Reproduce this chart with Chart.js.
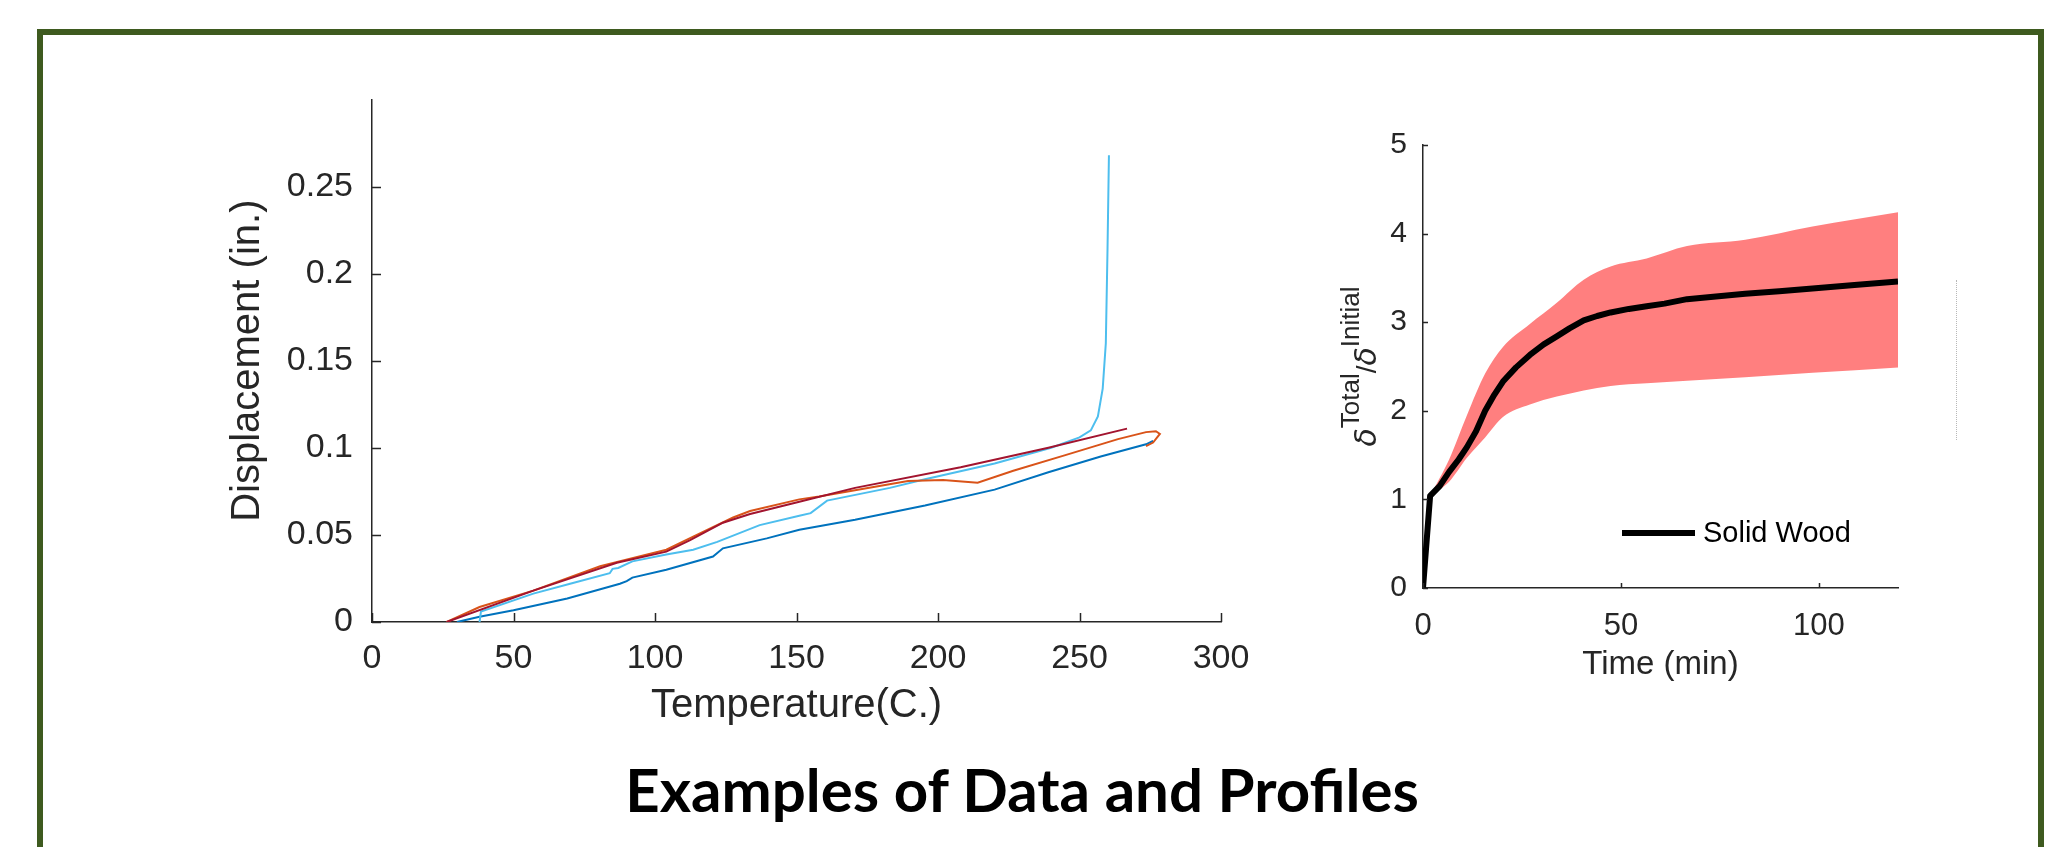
<!DOCTYPE html>
<html>
<head>
<meta charset="utf-8">
<script src="https://cdn.jsdelivr.net/npm/chart.js@4.4.0/dist/chart.umd.min.js"></script>
<style>
  html, body { margin: 0; padding: 0; background: #fff; width: 2059px; height: 847px; overflow: hidden; }
  #frame { position: absolute; left: 37px; top: 29px; width: 1995px; height: 900px; border: 6px solid #3e5a1f; }
  #tempChart { position: absolute; left: 150px; top: 60px; }
  #ratioChart { position: absolute; left: 1300px; top: 100px; }
  #title { position: absolute; left: 572px; width: 900px; top: 753px; text-align: center;
           font-family: Lato, "Open Sans", sans-serif; font-weight: 700; font-size: 60px; line-height: 72px; color: #000; }
  #stub { position: absolute; left: 1956px; top: 280px; height: 160px; border-left: 1px dotted #b8b8b8; }
</style>
</head>
<body>
<div id="frame"></div>
<canvas id="tempChart" width="1130" height="700"></canvas>
<canvas id="ratioChart" width="640" height="620"></canvas>
<div id="stub"></div>
<div id="title">Examples of Data and Profiles</div>

<script>
// Left panel: displacement vs temperature, four test runs.
const blueTemp = [30, 38, 50, 69, 87.6, 90, 92, 104, 120.5, 124, 139.5, 151, 170.7, 195.4, 220, 239, 257.5, 273.5, 276];
const blueDisp = [0, 0.003, 0.0067, 0.0135, 0.022, 0.0235, 0.0255, 0.030, 0.0376, 0.0423, 0.048, 0.053, 0.0587, 0.0669, 0.076, 0.086, 0.095, 0.102, 0.104];

const cyanTemp = [38, 38.5, 57, 70, 84, 85, 87, 92, 104, 113.5, 122, 137, 151, 155, 160.8, 183, 195.4, 220, 240, 250, 254, 256.5, 258.2, 259.3, 259.9, 260.4];
const cyanDisp = [0, 0.006, 0.0163, 0.022, 0.028, 0.0305, 0.031, 0.0348, 0.0387, 0.0415, 0.046, 0.0556, 0.061, 0.0625, 0.0697, 0.077, 0.082, 0.091, 0.100, 0.106, 0.110, 0.118, 0.134, 0.160, 0.214, 0.268];

const orangeTemp = [26.4, 38, 57, 80.6, 104, 113.5, 127.6, 133.6, 151, 158, 189.4, 201.8, 214, 226.6, 245, 263.6, 273.5, 277, 278.4, 276, 273.5];
const orangeDisp = [0, 0.0086, 0.018, 0.032, 0.0415, 0.049, 0.060, 0.0637, 0.0704, 0.072, 0.081, 0.0815, 0.080, 0.0868, 0.0958, 0.105, 0.109, 0.1095, 0.108, 0.103, 0.101];

const redTemp = [26.4, 57, 86.5, 104, 112.4, 124, 133.6, 151, 170.7, 208, 239, 266.8];
const redDisp = [0, 0.018, 0.034, 0.0404, 0.047, 0.057, 0.062, 0.069, 0.077, 0.0888, 0.100, 0.111];

// Right panel: normalised deflection vs time, mean with spread band.
const meanTime = [0, 1.8, 4.2, 6.6, 9, 11.1, 13.4, 15.7, 18, 20.2, 23.5, 27, 30.5, 33.8, 37, 40.6, 44, 47.4, 52, 56.5, 61, 66.7, 74, 81.4, 90, 98.4, 109, 120];
const meanRatio = [0, 1.04, 1.15, 1.31, 1.45, 1.59, 1.77, 2.0, 2.18, 2.33, 2.49, 2.63, 2.75, 2.84, 2.93, 3.02, 3.07, 3.11, 3.15, 3.18, 3.21, 3.26, 3.29, 3.32, 3.35, 3.38, 3.42, 3.46];
const bandTime = [1.8, 6.6, 11.1, 15.7, 20.2, 27, 33.8, 40.6, 47.4, 56.5, 66.7, 81.4, 98.4, 120];
const bandUpper = [1.04, 1.45, 1.95, 2.42, 2.72, 2.98, 3.22, 3.48, 3.63, 3.72, 3.86, 3.93, 4.08, 4.24];
const bandLower = [1.04, 1.2, 1.47, 1.70, 1.93, 2.07, 2.16, 2.23, 2.28, 2.31, 2.34, 2.38, 2.43, 2.49];

const tempTicks = [0, 50, 100, 150, 200, 250, 300];
const timeTicks = [0, 50, 100];

const FONT = '"Liberation Sans", Arial, Helvetica, sans-serif';
const AXIS = '#262626';
Chart.defaults.font.family = FONT;
Chart.defaults.color = AXIS;

const toPoints = (xs, ys) => xs.map((x, i) => ({x: x, y: ys[i]}));
const plainNum = (v) => String(+Number(v).toFixed(2));

// MATLAB style: short tick marks pointing into the plot
const inwardTicks = {
  id: 'inwardTicks',
  afterDraw(chart, args, opts) {
    const {ctx, chartArea, scales} = chart;
    ctx.save();
    ctx.strokeStyle = AXIS;
    ctx.lineWidth = opts.width;
    ctx.beginPath();
    for (const t of scales.x.ticks) {
      const px = Math.round(scales.x.getPixelForValue(t.value)) + 0.5;
      ctx.moveTo(px, chartArea.bottom);
      ctx.lineTo(px, chartArea.bottom - opts.length);
    }
    for (const t of scales.y.ticks) {
      const py = Math.round(scales.y.getPixelForValue(t.value)) + 0.5;
      ctx.moveTo(chartArea.left, py);
      ctx.lineTo(chartArea.left + opts.length, py);
    }
    ctx.stroke();
    ctx.restore();
  },
};

const lineSet = (label, xs, ys, color) => ({
  label: label,
  data: toPoints(xs, ys),
  showLine: true,
  borderColor: color,
  borderWidth: 2,
  pointRadius: 0,
  tension: 0,
  fill: false,
});

new Chart(document.getElementById('tempChart'), {
  type: 'scatter',
  data: {
    // chart.js paints the first dataset last, so the top-most run comes first
    datasets: [
      lineSet('Run 4', redTemp, redDisp, '#A2142F'),
      lineSet('Run 3', orangeTemp, orangeDisp, '#D95319'),
      lineSet('Run 2', cyanTemp, cyanDisp, '#4DBEEE'),
      lineSet('Run 1', blueTemp, blueDisp, '#0072BD'),
    ],
  },
  plugins: [inwardTicks],
  options: {
    responsive: false,
    animation: false,
    events: [],
    layout: {padding: {left: 0, top: 29, right: 59, bottom: 0}},
    plugins: {
      legend: {display: false},
      tooltip: {enabled: false},
      inwardTicks: {length: 9, width: 1.5},
    },
    scales: {
      x: {
        type: 'linear',
        min: 0,
        max: 300,
        afterBuildTicks: (s) => { s.ticks = tempTicks.map((v) => ({value: v})); },
        afterFit: (s) => { s.height = 138; },
        grid: {drawOnChartArea: false, drawTicks: false},
        border: {display: true, color: AXIS, width: 1.5},
        ticks: {font: {size: 34}, padding: 16, callback: plainNum, maxRotation: 0},
        title: {display: true, text: 'Temperature(C.)', font: {size: 40}, padding: {bottom: 30}},
      },
      y: {
        type: 'linear',
        min: 0,
        max: 0.3,
        ticks: {stepSize: 0.05, font: {size: 34}, padding: 19, callback: plainNum},
        afterBuildTicks: (s) => { s.ticks = s.ticks.filter((t) => t.value < 0.26); },
        afterFit: (s) => { s.width = 222; },
        grid: {drawOnChartArea: false, drawTicks: false},
        border: {display: true, color: AXIS, width: 1.5},
        title: {display: true, text: 'Displacement (in.)', font: {size: 40}, padding: {top: 74}},
      },
    },
  },
});

// y title with superscripts, drawn by hand since the axis title is plain text
const ratioTitle = {
  id: 'ratioTitle',
  afterDraw(chart) {
    const {ctx, chartArea} = chart;
    const parts = [
      ['δ', 'italic 30px "DejaVu Sans"', 0],
      ['Total', '26px ' + FONT, 17],
      ['/', '28px ' + FONT, 0],
      ['δ', 'italic 30px "DejaVu Sans"', 0],
      ['Initial', '26px ' + FONT, 17],
    ];
    ctx.save();
    let total = 0;
    for (const [t, f] of parts) { ctx.font = f; total += ctx.measureText(t).width; }
    ctx.translate(chartArea.left - 47, (chartArea.top + chartArea.bottom) / 2);
    ctx.rotate(-Math.PI / 2);
    ctx.fillStyle = AXIS;
    ctx.textBaseline = 'alphabetic';
    let x = -total / 2;
    for (const [t, f, raise] of parts) {
      ctx.font = f;
      ctx.fillText(t, x, -raise);
      x += ctx.measureText(t).width;
    }
    ctx.restore();
  },
};

// legend in the lower right of the plot area
const woodLegend = {
  id: 'woodLegend',
  afterDraw(chart) {
    const {ctx, chartArea} = chart;
    const ds = chart.data.datasets[0];
    const y = chartArea.bottom - 55;
    const x0 = chartArea.left + 199;
    ctx.save();
    ctx.strokeStyle = ds.borderColor;
    ctx.lineWidth = 6;
    ctx.beginPath();
    ctx.moveTo(x0, y);
    ctx.lineTo(x0 + 73, y);
    ctx.stroke();
    ctx.fillStyle = '#000';
    ctx.font = '29px ' + FONT;
    ctx.textBaseline = 'middle';
    ctx.fillText(ds.label, x0 + 81, y + 1);
    ctx.restore();
  },
};

new Chart(document.getElementById('ratioChart'), {
  type: 'scatter',
  data: {
    // mean line first so it is painted over the band
    datasets: [
      {
        label: 'Solid Wood',
        data: toPoints(meanTime, meanRatio),
        showLine: true,
        borderColor: '#000',
        borderWidth: 6,
        borderJoinStyle: 'round',
        pointRadius: 0,
        tension: 0,
        fill: false,
      },
      {
        label: 'Upper',
        data: toPoints(bandTime, bandUpper),
        showLine: true,
        borderWidth: 0,
        borderColor: 'rgba(0,0,0,0)',
        backgroundColor: '#ff7f7f',
        pointRadius: 0,
        cubicInterpolationMode: 'monotone',
        fill: '+1',
      },
      {
        label: 'Lower',
        data: toPoints(bandTime, bandLower),
        showLine: true,
        borderWidth: 0,
        borderColor: 'rgba(0,0,0,0)',
        pointRadius: 0,
        cubicInterpolationMode: 'monotone',
        fill: false,
      },
    ],
  },
  plugins: [inwardTicks, ratioTitle, woodLegend],
  options: {
    responsive: false,
    animation: false,
    events: [],
    layout: {padding: {left: 0, top: 45, right: 42, bottom: 0}},
    plugins: {
      legend: {display: false},
      tooltip: {enabled: false},
      filler: {propagate: false},
      inwardTicks: {length: 5, width: 1.5},
    },
    scales: {
      x: {
        type: 'linear',
        min: 0,
        max: 120,
        afterBuildTicks: (s) => { s.ticks = timeTicks.map((v) => ({value: v})); },
        afterFit: (s) => { s.height = 132; },
        grid: {drawOnChartArea: false, drawTicks: false},
        border: {display: true, color: AXIS, width: 1.5},
        ticks: {font: {size: 31}, padding: 20, callback: plainNum, maxRotation: 0},
        title: {display: true, text: 'Time (min)', font: {size: 33}, padding: {bottom: 35}},
      },
      y: {
        type: 'linear',
        min: 0,
        max: 5,
        ticks: {stepSize: 1, font: {size: 30}, padding: 16, callback: plainNum},
        afterFit: (s) => { s.width = 123; },
        grid: {drawOnChartArea: false, drawTicks: false},
        border: {display: true, color: AXIS, width: 1.5},
      },
    },
  },
});
</script>
</body>
</html>
